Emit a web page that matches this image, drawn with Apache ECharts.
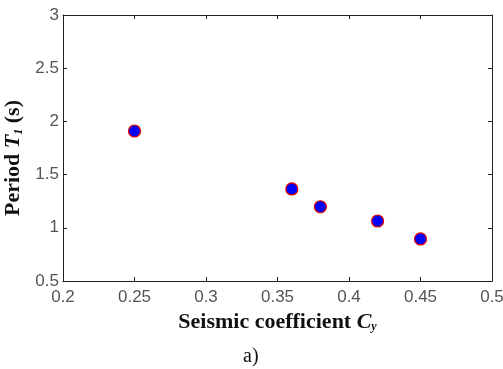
<!DOCTYPE html>
<html><head><meta charset="utf-8">
<script src="https://cdn.jsdelivr.net/npm/echarts@6/dist/echarts.min.js"></script>
<style>html,body{margin:0;padding:0;background:#fff}#c{width:503px;height:369px}</style>
</head><body><div id="c"></div>
<script>
var xValues = [0.25, 0.36, 0.38, 0.42, 0.45];
var yValues = [1.91, 1.365, 1.198, 1.064, 0.895];
var xTicks = [0.2, 0.25, 0.3, 0.35, 0.4, 0.45, 0.5];
var yTicks = [0.5, 1, 1.5, 2, 2.5, 3];

var chart = echarts.init(document.getElementById('c'));
var lbl = {color:'#555', fontFamily:'Liberation Sans, Arial, sans-serif', fontSize:17};
var serif = 'Liberation Serif, Times New Roman, serif';
function baseX(pos, showLabel){
  return {type:'value', position:pos, min:0.2, max:0.5, interval:0.05,
    axisLine:{show:true, onZero:false, lineStyle:{color:'#222', width:1}},
    axisTick:{show:true, inside:true, length:4, lineStyle:{color:'#222'}},
    splitLine:{show:false},
    axisLabel:Object.assign({show:showLabel, margin:8, formatter:function(v){return String(+v.toFixed(2));}}, lbl)};
}
function baseY(pos, showLabel){
  return {type:'value', position:pos, min:0.5, max:3, interval:0.5,
    axisLine:{show:true, onZero:false, lineStyle:{color:'#222', width:1}},
    axisTick:{show:true, inside:true, length:4, lineStyle:{color:'#222'}},
    splitLine:{show:false},
    axisLabel:Object.assign({show:showLabel, margin:4, formatter:function(v){return String(+v.toFixed(1));}}, lbl)};
}
var rich = {
  b:{fontFamily:serif, fontWeight:'bold', fontSize:22, color:'#111'},
  i:{fontFamily:serif, fontWeight:'bold', fontStyle:'italic', fontSize:22, color:'#111'},
  s:{fontFamily:serif, fontWeight:'bold', fontStyle:'italic', fontSize:12, color:'#111', verticalAlign:'bottom', padding:[10,0,0,0]}
};
var xb = baseX('bottom', true);
xb.name = '{b|Seismic coefficient }{i|C}{s|y}';
xb.nameLocation = 'middle'; xb.nameGap = 30;
xb.nameTextStyle = {rich:rich};
var yl = baseY('left', true);
yl.name = '{b|Period }{i|T}{s|1}{b| (s)}';
yl.nameLocation = 'middle'; yl.nameGap = 36; yl.nameRotate = 90;
yl.nameTextStyle = {rich:rich, padding:[0,20,0,0]};
var data = xValues.map(function(x,i){return [x, yValues[i]];});
chart.setOption({
  animation:false,
  grid:{left:63, top:15, right:11, bottom:88, containLabel:false, outerBoundsMode:'none'},
  xAxis:[xb, baseX('top', false)],
  yAxis:[yl, baseY('right', false)],
  series:[{type:'scatter', xAxisIndex:0, yAxisIndex:0, data:data, symbol:'circle', symbolSize:12,
    itemStyle:{color:'#0000ff', borderColor:'#e00000', borderWidth:1.2, opacity:1}}],
  graphic:[{type:'text', left:243, top:347, style:{text:'a)', fontFamily:serif, fontSize:20, fill:'#111'}}]
});
</script></body></html>
